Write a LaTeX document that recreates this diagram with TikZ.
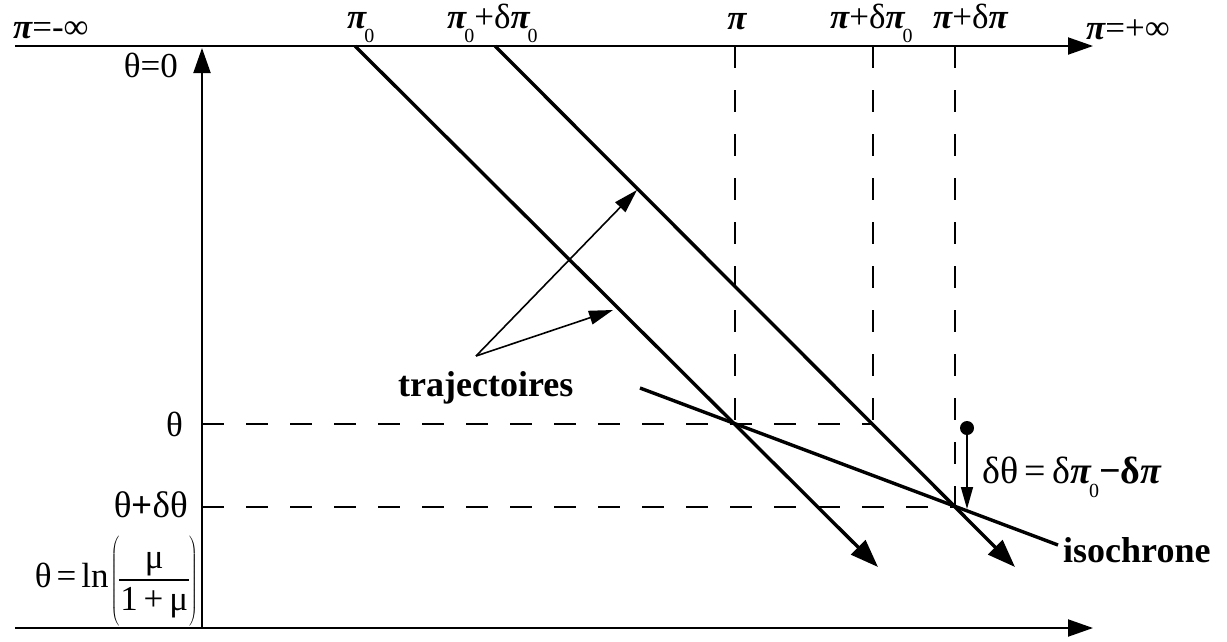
\documentclass[tikz,border=0pt]{standalone}
\usepackage{fontspec}
\setmainfont{Liberation Serif}
\usetikzlibrary{arrows.meta}
\newcommand{\bpi}{{\bfseries\itshape π}}
\newcommand{\subz}{\kern-2pt\raisebox{-14pt}{\fontsize{20}{20}\selectfont 0}}
\begin{document}
\begin{tikzpicture}[x=1pt,y=-1pt,
  lbl/.style={inner sep=0pt, font=\fontsize{35}{40}\selectfont},
  blbl/.style={inner sep=0pt, font=\fontsize{36}{40}\selectfont\bfseries},
  axis/.style={line width=2pt,-{Triangle[length=25pt,width=17pt]}},
  traj/.style={line width=3.4pt,-{Triangle[length=28pt,width=20pt]}},
  guide/.style={line width=1.6pt,dash pattern=on 22pt off 22pt},
  thinarr/.style={line width=1.6pt,-{Triangle[length=24pt,width=14pt]}},
  isoline/.style={line width=3.4pt}]
\useasboundingbox (0,0) rectangle (1227,641);
% axes
\coordinate (tl) at (15,46); \coordinate (tr) at (1093,46);
\coordinate (bl) at (15,628); \coordinate (br) at (1093,628);
\coordinate (vb) at (202,628); \coordinate (vt) at (202,48);
\draw[axis] (tl) -- (tr);
\draw[axis] (bl) -- (br);
\draw[axis] (vb) -- (vt);
% key points
\coordinate (P) at (735,424);
\coordinate (R) at (873,424);
\coordinate (Q) at (955,507);
\coordinate (Pt) at (735,46);
\coordinate (Rt) at (873,46);
\coordinate (Qt) at (955,46);
\coordinate (hP) at (202,424);
\coordinate (hQ) at (202,507);
% guides
\draw[guide] (hP) -- (R);
\draw[guide] (hQ) -- (Q);
\draw[guide] (Pt) -- (P);
\draw[guide] (Rt) -- (R);
\draw[guide] (Qt) -- (Q);
% trajectories
\coordinate (a0) at (355,46); \coordinate (a1) at (878,567);
\coordinate (b0) at (495,46); \coordinate (b1) at (1015,567);
\draw[traj] (a0) -- (a1);
\draw[traj] (b0) -- (b1);
% isochrone
\coordinate (i0) at (640,388); \coordinate (i1) at (1058,545);
\draw[isoline] (i0) -- (i1);
% delta theta arrow
\coordinate (dot) at (967,428); \coordinate (dtip) at (967,509);
\fill (dot) circle (7);
\draw[line width=1.6pt,-{Triangle[length=22pt,width=12pt]}] (dot) -- (dtip);
% trajectoires pointers
\coordinate (t0) at (476,356);
\coordinate (t1) at (637,190);
\coordinate (t2) at (613,310);
\draw[thinarr] (t0) -- (t1);
\draw[thinarr] (t0) -- (t2);
% labels top
\node[lbl,anchor=base west] (lminf) at (13,38) {\bpi=-∞};
\node[lbl,anchor=base west] (lpinf) at (1086,39) {\bpi=+∞};
\node[lbl,anchor=base west] (lp0) at (347,28) {\bpi\subz};
\node[lbl,anchor=base west] (lp0d) at (447,28) {\bpi\subz+δ\bpi\subz};
\node[lbl,anchor=base] (lp) at (737,29) {\bpi};
\node[lbl,anchor=base west] (lpd0) at (830,28) {\bpi+δ\bpi\subz};
\node[lbl,anchor=base west] (lpd) at (933,28) {\bpi+δ\bpi};
% labels left
\node[lbl,anchor=base east] (lth0) at (178,77) {θ=0};
\node[lbl,anchor=east] (lth) at (183,424) {θ};
\node[lbl,anchor=east,font=\fontsize{37}{40}\selectfont] (lthd) at (188,505) {θ{\bfseries+}δθ};
\node[lbl,anchor=east] (lthln) at (198,582) {θ\hspace{5pt}=\hspace{5pt}ln\hspace{2pt}$\left(\vcenter{\hbox{\setlength{\arrayrulewidth}{1.6pt}\setlength{\tabcolsep}{1pt}\begin{tabular}{c}μ\\[-1pt]\hline\rule{0pt}{30pt}1\,+\,μ\end{tabular}}}\vrule height 40pt depth 40pt width 0pt\right)$};
% other labels
\node[blbl,anchor=base west] (ltraj) at (398,396) {trajectoires};
\node[blbl,anchor=base west] (liso) at (1063,562) {isochrone};
\node[lbl,anchor=base west,font=\fontsize{38}{40}\selectfont] (ldt) at (982,483) {δθ\,=\,δ\bpi\subz{\bfseries−δ}\bpi};
\end{tikzpicture}
\end{document}
